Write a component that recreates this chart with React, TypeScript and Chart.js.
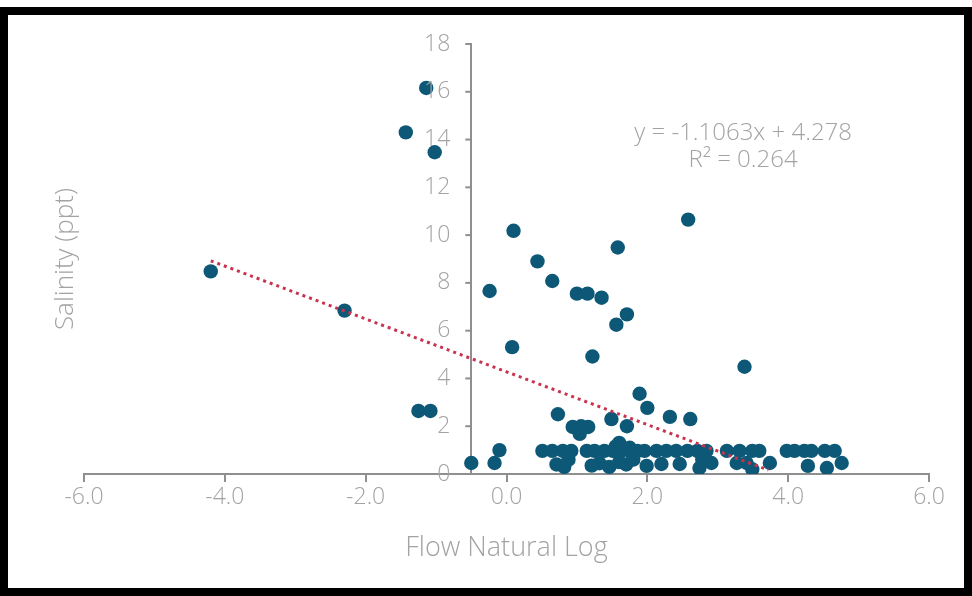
import React, { useEffect, useRef } from "react";
import { Chart, registerables } from "chart.js";

Chart.register(...registerables);

// Salinity vs flow natural log
const flowLog: number[] = [
  -4.2, -2.3, -1.43, -1.14, -1.02, -1.25, -1.08,
  -0.5, -0.17, -0.1, -0.24, 0.08, 0.10, 0.44, 0.65, 1.0, 1.15, 1.35, 1.58, 1.56, 1.71, 1.22, 2.58, 3.38,
  0.73, 0.94, 1.06, 1.16, 1.04, 1.49, 1.71, 2.0, 2.32, 2.61, 1.89, 1.6,
  0.51, 0.65, 0.80, 0.92, 1.14, 1.25, 1.39, 1.51, 1.63, 1.75, 1.86,
  1.96, 2.13, 2.27, 2.41, 2.57, 2.71, 2.84, 3.13, 3.31,
  3.49, 3.59, 3.98, 4.09, 4.23, 4.33, 4.52, 4.66,
  0.71, 0.82, 0.88, 1.21, 1.32, 1.46, 1.60, 1.70, 1.80,
  1.99, 2.2, 2.46, 2.74, 2.78, 2.91, 3.27,
  3.41, 3.49, 3.74, 4.28, 4.55, 4.76, 1.55, 1.75,
];
const salinity: number[] = [
  8.48, 6.84, 14.3, 16.16, 13.47, 2.64, 2.64,
  0.46, 0.46, 1.0, 7.66, 5.31, 10.18, 8.9, 8.08, 7.55, 7.55, 7.38, 9.48, 6.25, 6.68, 4.92, 10.65, 4.49,
  2.5, 1.97, 2.0, 1.97, 1.68, 2.3, 2.0, 2.77, 2.39, 2.3, 3.36, 1.3,
  0.97, 0.97, 0.97, 0.97, 0.97, 0.97, 0.97, 0.97, 0.97, 0.97, 0.97,
  0.97, 0.97, 0.97, 0.97, 0.97, 0.97, 0.97, 0.97, 0.97,
  0.97, 0.97, 0.97, 0.97, 0.97, 0.97, 0.97, 0.97,
  0.4, 0.3, 0.6, 0.35, 0.45, 0.3, 0.5, 0.4, 0.6,
  0.34, 0.42, 0.42, 0.25, 0.6, 0.46, 0.46,
  0.46, 0.2, 0.46, 0.34, 0.25, 0.46, 1.15, 1.1,
];

const slope = -1.1063;
const intercept = 4.278;
const trendX: number[] = [-4.2, 3.72];

const xTicks: number[] = [-6, -4, -2, 0, 2, 4, 6];
const yTicks: number[] = [0, 2, 4, 6, 8, 10, 12, 14, 16, 18];
const yAxisCrossX = -0.5;

const equationLines: string[] = ["y = -1.1063x + 4.278", "R² = 0.264"];
const xTitle = "Flow Natural Log";
const yTitle = "Salinity (ppt)";

const FONT = "'Open Sans', Lato, sans-serif";
const TEXT = "#a3a3a3";
const AXIS = "#8f8f8f";

export default function App() {
  const ref = useRef<HTMLCanvasElement | null>(null);

  useEffect(() => {
    if (!ref.current) return;
    document.body.style.margin = "0";

    const textPlugin = {
      id: "extraText",
      afterDraw(chart: any) {
        const ctx = chart.ctx;
        const xs = chart.scales.x;
        const ys = chart.scales.y;
        ctx.save();
        // y axis tick marks and labels (axis crosses inside the plot)
        const ax = xs.getPixelForValue(yAxisCrossX);
        ctx.strokeStyle = AXIS;
        ctx.lineWidth = 2;
        ctx.fillStyle = TEXT;
        ctx.font = `300 23px ${FONT}`;
        ctx.textAlign = "right";
        ctx.textBaseline = "middle";
        yTicks.forEach((v) => {
          const py = ys.getPixelForValue(v);
          ctx.beginPath();
          ctx.moveTo(ax - 6, py);
          ctx.lineTo(ax, py);
          ctx.stroke();
          ctx.fillText(String(v), ax - 21, py);
        });
        // equation
        ctx.textAlign = "center";
        ctx.font = `300 24px ${FONT}`;
        const ex = xs.getPixelForValue(3.36);
        const ey = ys.getPixelForValue(14.25);
        equationLines.forEach((l, i) => ctx.fillText(l, ex, ey + i * 27));
        // y title
        ctx.translate(66, ys.getPixelForValue(9.0));
        ctx.rotate(-Math.PI / 2);
        ctx.font = `300 26px ${FONT}`;
        ctx.fillText(yTitle, 0, 0);
        ctx.restore();
      },
    };

    const chart = new Chart(ref.current, {
      type: "scatter",
      data: {
        datasets: [
          {
            type: "line",
            label: "trend",
            data: trendX.map((x) => ({ x, y: slope * x + intercept })),
            borderColor: "#c8334f",
            borderWidth: 3,
            borderDash: [3, 4],
            pointRadius: 0,
            fill: false,
            order: 0,
          } as any,
          {
            label: "Salinity",
            data: flowLog.map((x, i) => ({ x, y: salinity[i] })),
            backgroundColor: "#0e5877",
            borderColor: "#0e5877",
            borderWidth: 0,
            pointRadius: 7.2,
            order: 1,
          },
        ],
      },
      options: {
        responsive: false,
        animation: false,
        layout: { padding: { left: 84, right: 43, top: 44, bottom: 31 } },
        plugins: { legend: { display: false }, tooltip: { enabled: false } },
        scales: {
          x: {
            type: "linear",
            position: "bottom",
            min: -6,
            max: 6,
            afterBuildTicks: (s: any) => {
              s.ticks = xTicks.map((v) => ({ value: v }));
            },
            ticks: {
              color: TEXT,
              font: { family: FONT, size: 23, weight: "300" as any },
              padding: 2,
              callback: (v: any) => Number(v).toFixed(1),
            },
            grid: { display: true, drawOnChartArea: false, drawTicks: true, tickLength: 8, color: AXIS, lineWidth: 2 },
            border: { display: true, color: AXIS, width: 2 },
            title: {
              display: true,
              text: xTitle,
              color: TEXT,
              font: { family: FONT, size: 27, weight: "300" as any },
              padding: { top: 19, bottom: 0 },
            },
          },
          y: {
            type: "linear",
            position: { x: yAxisCrossX } as any,
            min: 0,
            max: 18,
            afterBuildTicks: (s: any) => {
              s.ticks = yTicks.map((v) => ({ value: v }));
            },
            ticks: { display: false },
            grid: { display: false, drawOnChartArea: false, drawTicks: false },
            border: { display: true, color: AXIS, width: 2 },
          },
        },
      },
      plugins: [textPlugin],
    });
    return () => chart.destroy();
  }, []);

  return (
    <div style={{ position: "fixed", left: 0, top: 0, width: 972, height: 596, background: "#fff" }}>
      <div
        style={{
          position: "absolute",
          left: 0,
          top: 7,
          width: 972,
          height: 589,
          border: "8px solid #000",
          boxSizing: "border-box",
        }}
      />
      <canvas ref={ref} width={972} height={596} style={{ position: "absolute", left: 0, top: 0 }} />
    </div>
  );
}
